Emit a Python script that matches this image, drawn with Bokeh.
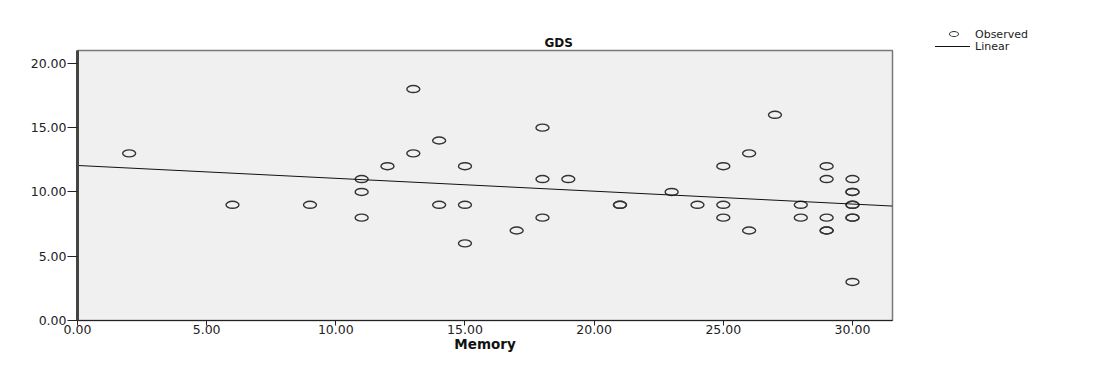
import numpy as np
from bokeh.plotting import figure
from bokeh.layouts import row
from bokeh.models import (Range1d, FixedTicker, ColumnDataSource, NumeralTickFormatter, Div)
from bokeh.embed import file_html
from bokeh.resources import INLINE

title_text = "GDS"
x_label = "Memory"
memory = [2, 6, 9, 11, 11, 11, 12, 13, 13, 14, 14, 15, 15, 15, 17, 18, 18, 18, 19,
          21, 21, 23, 24, 25, 25, 25, 26, 26, 27, 28, 28, 29, 29, 29, 29, 29,
          30, 30, 30, 30, 30, 30, 30, 30]
gds = [13, 9, 9, 11, 10, 8, 12, 18, 13, 14, 9, 12, 9, 6, 7, 15, 11, 8, 11,
       9, 9, 10, 9, 12, 9, 8, 13, 7, 16, 9, 8, 12, 11, 8, 7, 7,
       11, 10, 10, 9, 9, 8, 8, 3]
x_ticks = [0, 5, 10, 15, 20, 25, 30]
y_ticks = [0, 5, 10, 15, 20]
legend_labels = ["Observed", "Linear"]
x_max = 31.55
y_max = 21.0

FONT = "DejaVu Sans"
H = 354
W_MAIN = 904
W_LEG = 1092 - W_MAIN

p = figure(width=W_MAIN, height=H, output_backend="svg", toolbar_location=None,
           x_range=Range1d(0, x_max), y_range=Range1d(0, y_max),
           min_border_left=77, min_border_right=W_MAIN - 892, min_border_top=50,
           min_border_bottom=10)
p.background_fill_color = "#f0f0f0"
p.border_fill_color = "white"
p.outline_line_color = "#7a7a7a"
p.outline_line_width = 1.5
p.grid.visible = False

p.title.text = title_text
p.title.align = "left"
p.title.offset = 467
p.title.standoff = 2
p.title.text_font = FONT
p.title.text_font_style = "bold"
p.title.text_font_size = "12px"
p.title.text_color = "#111111"

for ax, ticks in ((p.xaxis, x_ticks), (p.yaxis, y_ticks)):
    ax.ticker = FixedTicker(ticks=ticks)
    ax.formatter = NumeralTickFormatter(format="0.00")
    ax.minor_tick_line_color = None
    ax.major_tick_in = 0
    ax.axis_line_color = "#222222"
    ax.major_tick_line_color = "#222222"
    ax.major_label_text_font = FONT
    ax.major_label_text_font_size = "12.5px"
    ax.major_label_text_color = "#222222"

p.xaxis.major_tick_out = 5
p.yaxis.major_tick_out = 10
p.yaxis.axis_line_width = 3
p.yaxis.axis_line_color = "#444444"
p.xaxis.major_label_standoff = -1
p.yaxis.major_label_standoff = 1
p.xaxis.axis_label = x_label
p.xaxis.axis_label_text_font = FONT
p.xaxis.axis_label_text_font_style = "bold"
p.xaxis.axis_label_text_font_size = "13.5px"
p.xaxis.axis_label_standoff = -1
p.xaxis.axis_label_text_color = "#111111"

src = ColumnDataSource(dict(x=memory, y=gds))
p.ellipse("x", "y", width=13, height=7, width_units="screen", height_units="screen",
          source=src, fill_color=None, line_color="#333333", line_width=1.4)

slope, intercept = np.polyfit(memory, gds, 1)
fx = [0, x_max]
fy = [intercept + slope * v for v in fx]
p.line(fx, fy, line_color="#111111", line_width=1)

# legend as a small HTML block to the right of the plot
legend_html = (
    f'<div style="position:relative;width:{W_LEG}px;height:{H}px;'
    f"font-family:'{FONT}';font-size:11px;color:#222222;\">"
    '<div style="position:absolute;left:45px;top:31px;width:10px;height:6px;'
    'border:1.4px solid #333333;border-radius:50%;"></div>'
    '<div style="position:absolute;left:31px;top:46px;width:35px;height:0;'
    'border-top:1px solid #111111;"></div>'
    f'<div style="position:absolute;left:71px;top:29px;line-height:11px;'
    f'white-space:nowrap;">{legend_labels[0]}</div>'
    f'<div style="position:absolute;left:71px;top:41px;line-height:11px;'
    f'white-space:nowrap;">{legend_labels[1]}</div>'
    '</div>'
)
leg = Div(text=legend_html, width=W_LEG, height=H, margin=0)

layout = row(p, leg)
open("out.html", "w").write(file_html(layout, INLINE))
